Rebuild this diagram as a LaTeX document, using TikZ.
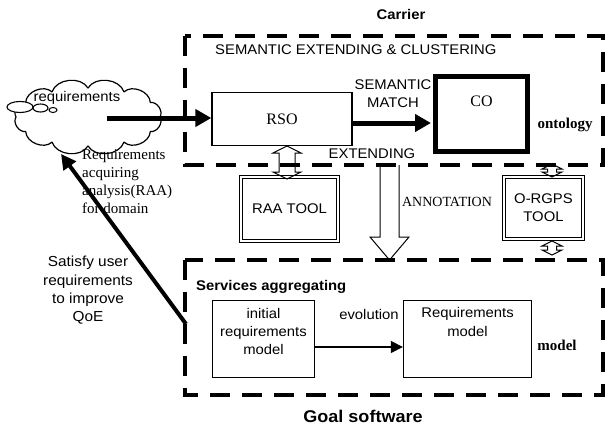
\documentclass[tikz,border=0pt]{standalone}
\usepackage{fontspec}
\setmainfont{Liberation Serif}
\setsansfont[FakeStretch=1.06]{Liberation Sans}
\usetikzlibrary{shapes.geometric,arrows.meta}
\newcommand\hdarrow[5]{% top point, length, shaft half, head half, head length
  \draw[hollowarrow] #1 -- ++(#4,#5) -- ++({#3-#4},0) -- ++(0,{#2-2*#5}) -- ++({#4-#3},0)
    -- ++(-#4,#5) -- ++(-#4,-#5) -- ++({#4-#3},0) -- ++(0,{-(#2-2*#5)}) -- ++({#3-#4},0) -- cycle;}
\begin{document}
\begin{tikzpicture}[x=1pt,y=-1pt,
  sans/.style={font=\sffamily\fontsize{14}{18.3}\selectfont, inner sep=0pt},
  sansb/.style={font=\sffamily\bfseries\fontsize{14}{17}\selectfont, inner sep=0pt},
  serif/.style={font=\rmfamily\fontsize{15}{18}\selectfont, inner sep=0pt},
  serifb/.style={font=\rmfamily\bfseries\fontsize{15}{18}\selectfont, inner sep=0pt},
  dashbox/.style={line width=4.5pt, dash pattern=on 20pt off 12pt},
  plainbox/.style={draw, line width=1.3pt, inner sep=0pt},
  toolbox/.style={draw, double, double distance=2.2pt, line width=1.1pt, inner sep=0pt},
  bigarrow/.style={line width=5pt, -{Triangle[length=16pt,width=17pt]}},
  hollowarrow/.style={draw, line width=1pt, line join=miter}
]
\useasboundingbox (0,0) rectangle (607,428);

% dashed frames
\draw[dashbox] (185,36) rectangle (603,165);
\draw[dashbox] (185,260) rectangle (603,395);

% titles
\node[sansb] (carrier) at (401,14) {Carrier};
\node[sans, anchor=west] (sec) at (215,50) {SEMANTIC EXTENDING \& CLUSTERING};
\node[sansb, anchor=west] (sag) at (196,287) {Services aggregating};
\node[font=\sffamily\bfseries\fontsize{17}{20}\selectfont, inner sep=0pt] (goal) at (363,416) {Goal software};

% cloud
\coordinate (cloudc) at (88,117);
\draw[line width=1.2pt, line join=round] ([shift={(72,0)}]cloudc)
  \foreach \a in {30,60,...,360} { to[bend left=65] ([shift={({72*cos(\a)},{29*sin(\a)})}]cloudc) } -- cycle;
\draw[line width=1.1pt, fill=white] (20,107) ellipse [x radius=13, y radius=5.5] coordinate (b1);
\draw[line width=1.1pt, fill=white] (40.5,108) ellipse [x radius=7.5, y radius=4] coordinate (b2);
\draw[line width=1pt, fill=white] (53,110) ellipse [x radius=4, y radius=2.5] coordinate (b3);
\node[sans] (creq) at (77,98) {requirements};

% upper boxes
\node[plainbox, minimum width=140pt, minimum height=53pt, font=\rmfamily\fontsize{16}{18}\selectfont] (rso) at (282,119) {RSO};
\node[sans, align=center] (sm) at (393,94) {SEMANTIC\\MATCH};
\node[draw, line width=5pt, minimum width=92pt, minimum height=75pt, inner sep=0pt] (co) at (481.5,113.5) {};
\node[font=\rmfamily\fontsize{16}{18}\selectfont, inner sep=0pt] (cotext) at (481.5,101) {CO};
\node[serifb] (onto) at (565,125) {ontology};
\node[sans] (ext) at (372,154) {EXTENDING};

\coordinate (cstart) at (107,118);
\draw[bigarrow] (cstart) -- (cstart -| rso.west);
\draw[bigarrow, shorten >=2pt] ([yshift=-4pt]rso.east) -- ([yshift=-4pt]rso.east -| co.west);

% tools
\node[toolbox, minimum width=96.5pt, minimum height=63.5pt, font=\sffamily\fontsize{14}{16}\selectfont] (raa) at (289.5,209) {RAA TOOL};
\node[toolbox, minimum width=78.5pt, minimum height=61.5pt, font=\sffamily\fontsize{14}{18}\selectfont, align=center] (orgps) at (543.5,208) {O-RGPS\\TOOL};
\node[serif, font=\rmfamily\fontsize{14}{16}\selectfont] (anno) at (447,202) {ANNOTATION};

\coordinate (raatop) at (287,146);
\hdarrow{(raatop)}{33}{8}{14}{7}
\coordinate (otop) at (552,164);
\hdarrow{(otop)}{13}{4.5}{10}{5}
\coordinate (obot) at (552,241);
\hdarrow{(obot)}{14}{4.5}{10}{5}

% big hollow down arrow
\coordinate (antop) at (389.5,165);
\draw[hollowarrow] (antop) ++(-9.5,0) -- ++(0,72) -- ++(-10,0) -- ++(19.5,23) -- ++(19.5,-23) -- ++(-10,0) -- ++(0,-72) ;

% left texts
\node[serif, align=left, anchor=west] (raatext) at (82,182) {Requirements\\acquiring\\analysis(RAA)\\for domain};
\node[sans, font=\sffamily\fontsize{14.5}{18.3}\selectfont, align=center] (sat) at (88,290.5) {Satisfy user\\requirements\\to improve\\QoE};
\coordinate (satend) at (186,324);
\coordinate (cloudtip) at (61,154);
\draw[line width=4pt, -{Triangle[length=15pt,width=15pt]}] (satend) -- (cloudtip);

% lower boxes
\node[plainbox, minimum width=102pt, minimum height=77pt] (init) at (263.5,339) {};
\node[sans, align=center] (inittext) at (263.5,331.5) {initial\\requirements\\model};
\node[plainbox, minimum width=128pt, minimum height=77pt] (reqm) at (467.5,339) {};
\node[sans, align=center] (reqmtext) at (467.5,322) {Requirements\\model};
\draw[line width=1.2pt, -{Triangle[length=12pt,width=12pt]}] ([yshift=-8pt]init.east) -- ([yshift=-8pt]init.east -| reqm.west);
\node[sans] (evo) at (369,314) {evolution};
\node[serifb] (model) at (557,345) {model};
\end{tikzpicture}
\end{document}
